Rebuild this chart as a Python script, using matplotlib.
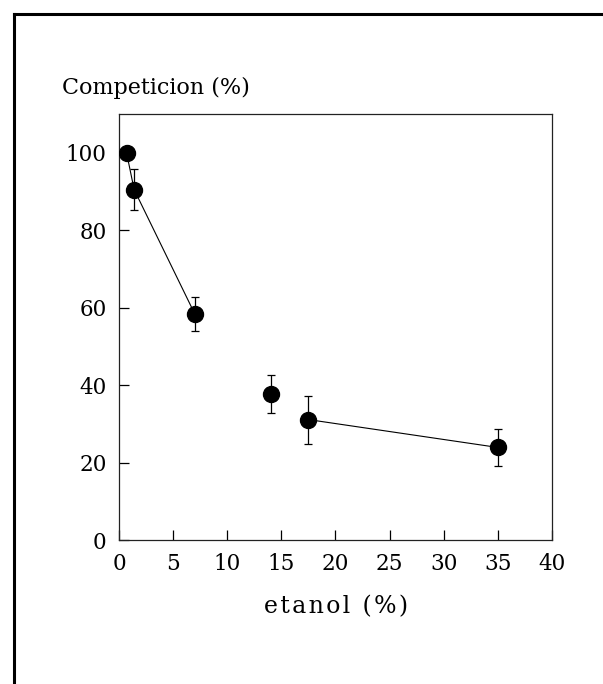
import matplotlib
matplotlib.use("Agg")
import matplotlib.pyplot as plt
from matplotlib.lines import Line2D

# Data
etanol = [0.7, 1.4, 7.0, 14.0, 17.5, 35.0]
competicion = [100.0, 90.5, 58.4, 37.8, 31.1, 23.9]
error = [0.0, 5.2, 4.3, 4.9, 6.2, 4.8]
# indices of points joined by the drawn line segments
segment_a = [0, 1, 2]
segment_b = [4, 5]

xticks = [0, 5, 10, 15, 20, 25, 30, 35, 40]
yticks = [0, 20, 40, 60, 80, 100]
y_title = 'Competicion (%)'
x_title = 'etanol (%)'

plt.rcParams['font.family'] = ['DejaVu Serif', 'DejaVu Sans']


def spaced(s, sep):
    return sep.join(list(s))


fig = plt.figure(figsize=(6.03, 6.84), dpi=100)
ax = fig.add_axes([0.1973, 0.2105, 0.7181, 0.6228])

ax.plot([etanol[i] for i in segment_a], [competicion[i] for i in segment_a],
        color='black', lw=0.8, zorder=2)
ax.plot([etanol[i] for i in segment_b], [competicion[i] for i in segment_b],
        color='black', lw=0.8, zorder=2)
ax.errorbar(etanol, competicion, yerr=error, fmt='o', color='black',
            markersize=11.5, ecolor='black', elinewidth=0.9, capsize=3,
            capthick=0.9, zorder=3)

ax.set_xlim(0, 40)
ax.set_ylim(0, 110)
ax.set_xticks(xticks)
ax.set_yticks(yticks)
ax.tick_params(direction='in', length=7, width=0.9, labelsize=15.5,
               top=False, right=False)
ax.tick_params(axis='x', pad=9)
ax.tick_params(axis='y', pad=9)
for s in ax.spines.values():
    s.set_linewidth(0.9)
    s.set_color('#222222')

fig.text(62 / 603, 1 - 88 / 684, y_title, fontsize=16, ha='left', va='center')
fig.text(336.5 / 603, 1 - 607 / 684, spaced(x_title, '\u200a'), fontsize=17,
         ha='center', va='center')

# scanned page frame (top and left edges)
fig.add_artist(Line2D([0.0224, 1.0], [0.9795, 0.9795], transform=fig.transFigure,
                      color='black', lw=2.2))
fig.add_artist(Line2D([0.0224, 0.0224], [0.0, 0.9795], transform=fig.transFigure,
                      color='black', lw=2.2))

fig.savefig('out.png', dpi=100)
